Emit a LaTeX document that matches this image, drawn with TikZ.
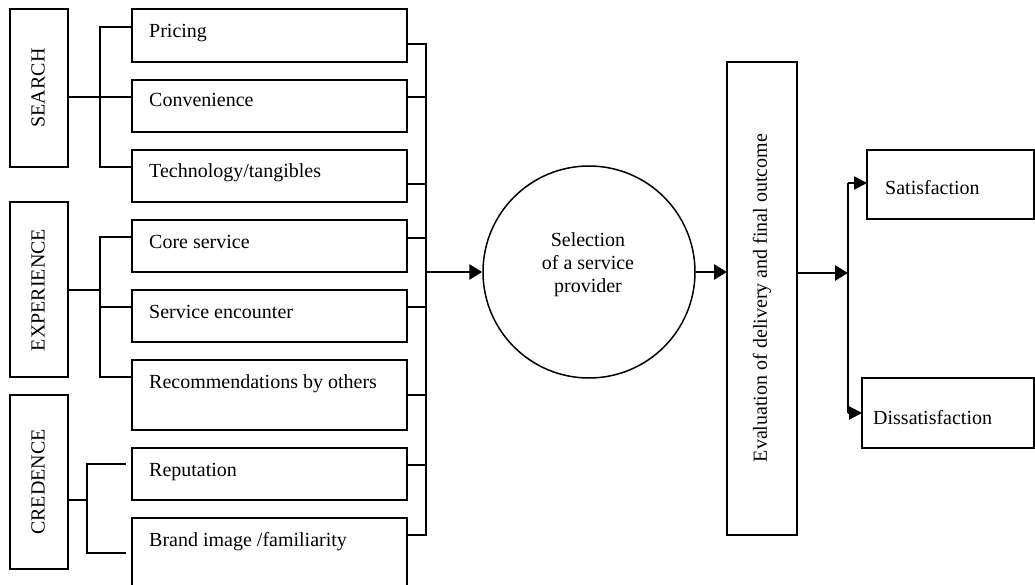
\documentclass[tikz,border=0pt]{standalone}
\usepackage{fontspec}
\setmainfont{Liberation Serif}
\usetikzlibrary{arrows.meta}
\begin{document}
\begin{tikzpicture}[x=1pt,y=-1pt,
  box/.style={draw,line width=1.5pt,inner sep=0pt,outer sep=0pt},
  lbl/.style={anchor=base west,inner sep=0pt,font=\fontsize{20}{24}\selectfont},
  catlbl/.style={rotate=90,inner sep=0pt,font=\fontsize{20}{24}\selectfont},
  conn/.style={line width=1.5pt},
  arr/.style={line width=2.8pt,-{Triangle[length=13pt,width=15pt]}},
  sarr/.style={line width=2.2pt,-{Triangle[length=13pt,width=13pt]}}]
\useasboundingbox (0,0) rectangle (1035,585);
\clip (0,0) rectangle (1035,585);
% category boxes
\draw[box] (10,9) rectangle (68,167);
\node[catlbl] (search) at (38,88) {SEARCH};
\draw[box] (10,202) rectangle (68,377);
\node[catlbl] (exper) at (38,290) {EXPERIENCE};
\draw[box] (10,395) rectangle (68,569);
\node[catlbl] (cred) at (38,482) {CREDENCE};
% attribute boxes
\draw[box] (132,9) rectangle (407,62);
\node[lbl] (pricing) at (149,38) {Pricing};
\draw[box] (132,80) rectangle (407,132);
\node[lbl] (conv) at (149,107) {Convenience};
\draw[box] (132,150) rectangle (407,202);
\node[lbl] (tech) at (149,178) {Technology/tangibles};
\draw[box] (132,220) rectangle (407,272);
\node[lbl] (core) at (149,248) {Core service};
\draw[box] (132,290) rectangle (407,342);
\node[lbl] (enc) at (149,318) {Service encounter};
\draw[box] (132,360) rectangle (407,430);
\node[lbl] (rec) at (149,388) {Recommendations by others};
\draw[box] (132,448) rectangle (407,500);
\node[lbl] (rep) at (149,476) {Reputation};
\draw[box] (132,518) rectangle (407,600);
\node[lbl] (brand) at (149,546) {Brand image /familiarity};
% left brackets
\draw[conn] (68,97) -- (132,97);
\draw[conn] (132,27) -- (100,27) -- (100,167) -- (132,167);
\draw[conn] (68,290) -- (100,290);
\draw[conn] (132,237) -- (100,237) -- (100,377) -- (132,377);
\draw[conn] (100,307) -- (132,307);
\draw[conn] (68,500) -- (87,500);
\draw[conn] (126,464) -- (87,464) -- (87,553) -- (126,553);
% right bus
\draw[conn] (407,44) -- (426,44) -- (426,535) -- (407,535);
\foreach \yy in {97,184,238,307,395,465} \draw[conn] (407,\yy) -- (426,\yy);
% centre
\node[draw,circle,line width=1.5pt,minimum size=212pt,inner sep=0pt] (sel) at (589,272) {};
\node[align=center,font=\fontsize{20}{23}\selectfont,inner sep=0pt] (seltxt) at (588,265) {Selection\\of a service\\provider};
\node[box,minimum width=70pt,minimum height=473pt] (eval) at (762,298.5) {};
\node[catlbl] (evaltxt) at (762,298) {Evaluation of delivery and final outcome};
\coordinate (busout) at (426,272);
\draw[arr] (busout) -- (sel.west);
\draw[arr] (sel.east) -- (eval.west |- sel.east);
% outcomes
\node[box,anchor=north west,minimum width=167pt,minimum height=69pt] (sat) at (867,150) {};
\node[lbl] (sattxt) at (885,195) {Satisfaction};
\node[box,anchor=north west,minimum width=172pt,minimum height=70pt] (dis) at (862,378) {};
\node[lbl] (distxt) at (873,424) {Dissatisfaction};
\coordinate (fork) at (848,273);
\coordinate (forkT) at (848,183);
\coordinate (forkB) at (848,413);
\draw[arr] (eval.east |- fork) -- (fork);
\draw[conn] (forkT) -- (forkB);
\draw[sarr] (forkT) -- (sat.west |- forkT);
\draw[sarr] (forkB) -- (dis.west |- forkB);
\end{tikzpicture}
\end{document}
